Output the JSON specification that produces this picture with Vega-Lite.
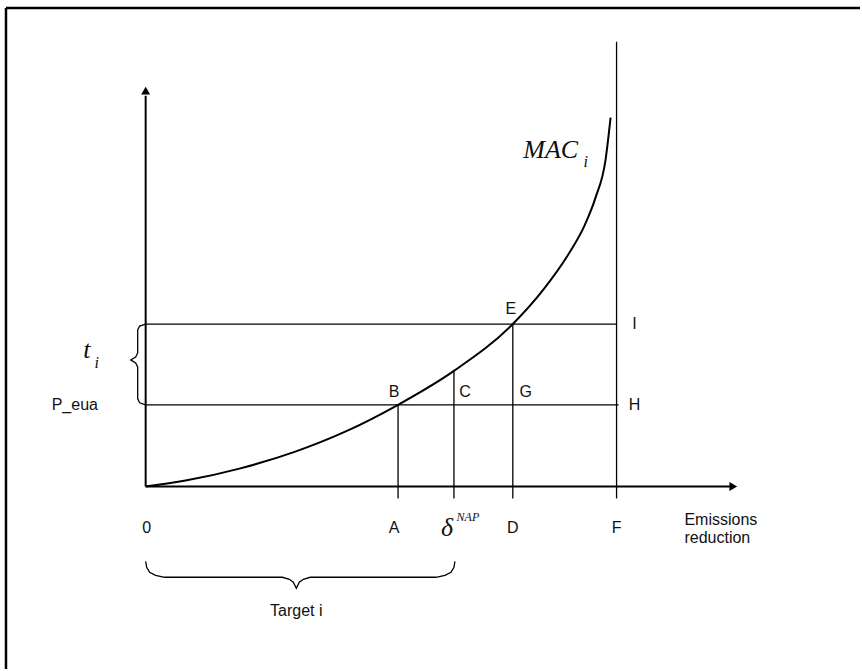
{
  "$schema": "https://vega.github.io/schema/vega-lite/v6.json",
  "width": 862,
  "height": 671,
  "autosize": {"type": "fit", "contains": "padding"},
  "padding": 0,
  "background": "white",
  "config": {"view": {"stroke": null}},
  "datasets": {
    "border": [
      {"x": -140, "y": 480, "x2": 716, "y2": 480},
      {"x": -140, "y": 480, "x2": -140, "y2": -183}
    ],
    "axes": [
      {"x": 0, "y": 0, "x2": 0, "y2": 392},
      {"x": 0, "y": 0, "x2": 586, "y2": 0}
    ],
    "arrowUp": [{"x": 0, "y": 397}],
    "arrowRight": [{"x": 589, "y": 0}],
    "lines": [
      {"x": 472, "y": -12, "x2": 472, "y2": 446},
      {"x": 0, "y": 163, "x2": 472, "y2": 163},
      {"x": 0, "y": 82, "x2": 474, "y2": 82},
      {"x": 253, "y": -12, "x2": 253, "y2": 82},
      {"x": 309, "y": -12, "x2": 309, "y2": 116},
      {"x": 368, "y": -12, "x2": 368, "y2": 163}
    ],
    "curve": [
      {"x": 0, "y": 0}, {"x": 40, "y": 6}, {"x": 94, "y": 18}, {"x": 150, "y": 35},
      {"x": 200, "y": 55}, {"x": 253, "y": 82}, {"x": 309, "y": 116}, {"x": 368, "y": 163},
      {"x": 399, "y": 198}, {"x": 425, "y": 235}, {"x": 440, "y": 262}, {"x": 451, "y": 290},
      {"x": 461, "y": 328}, {"x": 466, "y": 370}
    ],
    "braces": [
      {"b": "bottom", "i": 0, "x": 0, "y": -75}, {"b": "bottom", "i": 1, "x": 1, "y": -81},
      {"b": "bottom", "i": 2, "x": 4, "y": -86}, {"b": "bottom", "i": 3, "x": 10, "y": -89},
      {"b": "bottom", "i": 4, "x": 19, "y": -91}, {"b": "bottom", "i": 5, "x": 137, "y": -91},
      {"b": "bottom", "i": 6, "x": 144, "y": -93}, {"b": "bottom", "i": 7, "x": 148, "y": -96},
      {"b": "bottom", "i": 8, "x": 151, "y": -102}, {"b": "bottom", "i": 9, "x": 154, "y": -96},
      {"b": "bottom", "i": 10, "x": 158, "y": -93}, {"b": "bottom", "i": 11, "x": 165, "y": -91},
      {"b": "bottom", "i": 12, "x": 291, "y": -91}, {"b": "bottom", "i": 13, "x": 300, "y": -89},
      {"b": "bottom", "i": 14, "x": 306, "y": -86}, {"b": "bottom", "i": 15, "x": 309, "y": -81},
      {"b": "bottom", "i": 16, "x": 310, "y": -75},
      {"b": "left", "i": 0, "x": 0, "y": 163}, {"b": "left", "i": 1, "x": -6, "y": 161},
      {"b": "left", "i": 2, "x": -8, "y": 157}, {"b": "left", "i": 3, "x": -8, "y": 134},
      {"b": "left", "i": 4, "x": -10, "y": 130}, {"b": "left", "i": 5, "x": -15, "y": 127},
      {"b": "left", "i": 6, "x": -10, "y": 124}, {"b": "left", "i": 7, "x": -8, "y": 120},
      {"b": "left", "i": 8, "x": -8, "y": 88}, {"b": "left", "i": 9, "x": -6, "y": 84},
      {"b": "left", "i": 10, "x": 0, "y": 82}
    ],
    "labels": [
      {"t": "0", "x": 1, "y": -42}, {"t": "A", "x": 249, "y": -42},
      {"t": "D", "x": 368, "y": -42}, {"t": "F", "x": 472, "y": -42},
      {"t": "B", "x": 249, "y": 95}, {"t": "C", "x": 320, "y": 95},
      {"t": "G", "x": 381, "y": 95}, {"t": "H", "x": 490, "y": 82},
      {"t": "E", "x": 366, "y": 178}, {"t": "I", "x": 490, "y": 163},
      {"t": "P_eua", "x": -71, "y": 82}, {"t": "Target i", "x": 151, "y": -125}
    ],
    "leftLabels": [
      {"t": "Emissions", "x": 540, "y": -34},
      {"t": "reduction", "x": 540, "y": -52}
    ],
    "bigSerif": [
      {"t": "MAC", "x": 406, "y": 338},
      {"t": "δ", "x": 302, "y": -42},
      {"t": "t", "x": -59, "y": 137}
    ],
    "smallSerif": [
      {"t": "i", "x": 441, "y": 326},
      {"t": "i", "x": -49, "y": 124}
    ],
    "sup": [
      {"t": "NAP", "x": 323, "y": -31}
    ]
  },
  "encoding": {
    "x": {"field": "x", "type": "quantitative", "axis": null,
          "scale": {"domain": [-146, 716], "nice": false, "zero": false}},
    "y": {"field": "y", "type": "quantitative", "axis": null,
          "scale": {"domain": [-183, 488], "nice": false, "zero": false}}
  },
  "layer": [
    {
      "data": {"name": "border"},
      "mark": {"type": "rule", "color": "black", "strokeWidth": 2.5},
      "encoding": {"x2": {"field": "x2"}, "y2": {"field": "y2"}}
    },
    {
      "data": {"name": "axes"},
      "mark": {"type": "rule", "color": "black", "strokeWidth": 2},
      "encoding": {"x2": {"field": "x2"}, "y2": {"field": "y2"}}
    },
    {
      "data": {"name": "arrowUp"},
      "mark": {"type": "point", "shape": "triangle-up", "filled": true, "color": "black", "size": 80, "opacity": 1}
    },
    {
      "data": {"name": "arrowRight"},
      "mark": {"type": "point", "shape": "triangle-right", "filled": true, "color": "black", "size": 80, "opacity": 1}
    },
    {
      "data": {"name": "lines"},
      "mark": {"type": "rule", "color": "black", "strokeWidth": 1.3},
      "encoding": {"x2": {"field": "x2"}, "y2": {"field": "y2"}}
    },
    {
      "data": {"name": "curve"},
      "mark": {"type": "line", "color": "black", "strokeWidth": 2, "interpolate": "monotone"},
      "encoding": {"order": {"field": "x", "type": "quantitative"}}
    },
    {
      "data": {"name": "braces"},
      "mark": {"type": "line", "color": "black", "strokeWidth": 1.3, "interpolate": "linear"},
      "encoding": {"detail": {"field": "b"}, "order": {"field": "i", "type": "quantitative"}}
    },
    {
      "data": {"name": "labels"},
      "mark": {"type": "text", "font": "Liberation Sans", "fontSize": 16, "color": "#111", "align": "center", "baseline": "middle"},
      "encoding": {"text": {"field": "t"}}
    },
    {
      "data": {"name": "leftLabels"},
      "mark": {"type": "text", "font": "Liberation Sans", "fontSize": 16, "color": "#111", "align": "left", "baseline": "middle"},
      "encoding": {"text": {"field": "t"}}
    },
    {
      "data": {"name": "bigSerif"},
      "mark": {"type": "text", "font": "Liberation Serif", "fontStyle": "italic", "fontSize": 26, "color": "#111", "align": "center", "baseline": "middle"},
      "encoding": {"text": {"field": "t"}}
    },
    {
      "data": {"name": "smallSerif"},
      "mark": {"type": "text", "font": "Liberation Serif", "fontStyle": "italic", "fontSize": 16, "color": "#111", "align": "center", "baseline": "middle"},
      "encoding": {"text": {"field": "t"}}
    },
    {
      "data": {"name": "sup"},
      "mark": {"type": "text", "font": "Liberation Serif", "fontStyle": "italic", "fontSize": 12, "color": "#111", "align": "center", "baseline": "middle"},
      "encoding": {"text": {"field": "t"}}
    }
  ]
}
